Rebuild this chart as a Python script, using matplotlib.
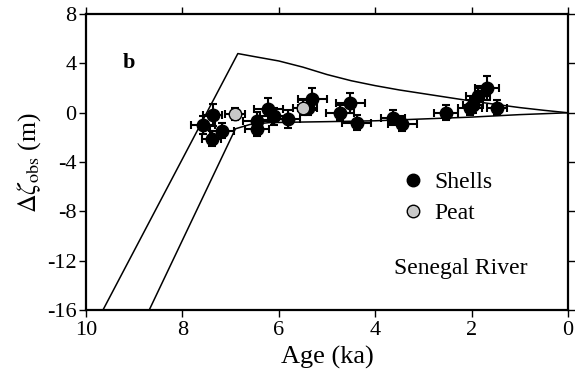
import matplotlib
matplotlib.use("Agg")
import matplotlib.pyplot as plt
import numpy as np

plt.rcParams['font.family'] = ['Liberation Serif', 'DejaVu Serif']
plt.rcParams['mathtext.fontset'] = 'stix'
plt.rcParams['axes.unicode_minus'] = False

# Envelope curves (age in ka, sea level in m)
upper_age = [9.65, 6.85, 6.5, 6.0, 5.5, 5.0, 4.5, 4.0, 3.5, 3.0, 2.5, 2.0,
             1.5, 1.0, 0.5, 0.0]
upper_val = [-16.0, 4.8, 4.55, 4.2, 3.7, 3.1, 2.6, 2.2, 1.85, 1.55, 1.25,
             0.95, 0.68, 0.42, 0.2, 0.0]
lower_age = [8.69, 6.9, 6.6, 6.2, 5.5, 5.0, 4.0, 3.0, 2.0, 1.0, 0.0]
lower_val = [-16.0, -1.3, -0.95, -0.8, -0.75, -0.72, -0.65, -0.5, -0.35,
             -0.15, 0.0]

# Shell data
shell_age = [7.57, 7.37, 7.18, 7.39, 6.45, 6.45, 6.22, 6.1, 5.81, 5.31, 5.4,
             4.73, 4.52, 4.38, 3.63, 3.44, 2.53, 2.03, 1.97, 1.87, 1.68, 1.47]
shell_val = [-1.0, -0.2, -1.45, -2.1, -0.7, -1.3, 0.3, -0.3, -0.5, 1.1, 0.4,
             0.0, 0.8, -0.8, -0.4, -0.9, 0.0, 0.4, 0.6, 1.4, 2.0, 0.4]
shell_xerr = [0.25, 0.2, 0.25, 0.2, 0.3, 0.25, 0.3, 0.3, 0.25, 0.3, 0.2,
              0.3, 0.3, 0.3, 0.25, 0.3, 0.25, 0.25, 0.2, 0.25, 0.25, 0.2]
shell_yerr = [0.7, 0.9, 0.6, 0.6, 0.8, 0.6, 0.9, 0.7, 0.7, 0.9, 0.6,
              0.6, 0.8, 0.6, 0.6, 0.6, 0.6, 0.6, 0.6, 0.8, 1.0, 0.6]

# Peat data
peat_age = [6.91, 5.5]
peat_val = [-0.1, 0.4]
peat_xerr = [0.2, 0.2]
peat_yerr = [0.5, 0.6]

fig = plt.figure(figsize=(5.75, 3.81), dpi=100)
ax = fig.add_axes([0.1496, 0.186, 0.8382, 0.777])

ax.plot(upper_age, upper_val, color='black', lw=1.1)
ax.plot(lower_age, lower_val, color='black', lw=1.1)

ax.errorbar(shell_age, shell_val, xerr=shell_xerr, yerr=shell_yerr, fmt='o',
            color='black', mfc='black', mec='black', ms=9, elinewidth=1.5,
            capsize=3, capthick=1.5, label='Shells', zorder=3)
ax.errorbar(peat_age, peat_val, xerr=peat_xerr, yerr=peat_yerr, fmt='o',
            color='black', mfc='#c8c8c8', mec='black', ms=9, elinewidth=1.5,
            capsize=3, capthick=1.5, label='Peat', zorder=4)

ax.set_xlim(10, 0)
ax.set_ylim(-16, 8)
ax.set_xticks([10, 8, 6, 4, 2, 0])
ax.set_yticks([8, 4, 0, -4, -8, -12, -16])
ax.tick_params(direction='out', length=5, width=1, labelsize=16,
               top=True, right=True, labeltop=False, labelright=False)
ax.tick_params(axis='x', pad=3)
ax.tick_params(axis='y', pad=2)
for s in ax.spines.values():
    s.set_linewidth(1.6)

ax.set_xlabel('Age (ka)', fontsize=19, labelpad=4)
ax.set_ylabel(r'$\Delta\zeta_{\rm obs}$ (m)', fontsize=18.5, labelpad=3)

ax.text(0.077, 0.834, 'b', transform=ax.transAxes, fontsize=16,
        fontweight='bold', va='center', ha='left')
ax.text(0.638, 0.14, 'Senegal River', transform=ax.transAxes, fontsize=17,
        va='center', ha='left')

handles, labels = ax.get_legend_handles_labels()
handles = [h[0] for h in handles]
leg = ax.legend(handles, labels, loc='upper left', bbox_to_anchor=(0.635, 0.5),
                frameon=False, fontsize=17, handletextpad=0.4,
                labelspacing=0.4, handlelength=1.0, borderaxespad=0)

fig.savefig('out.png', dpi=100)
